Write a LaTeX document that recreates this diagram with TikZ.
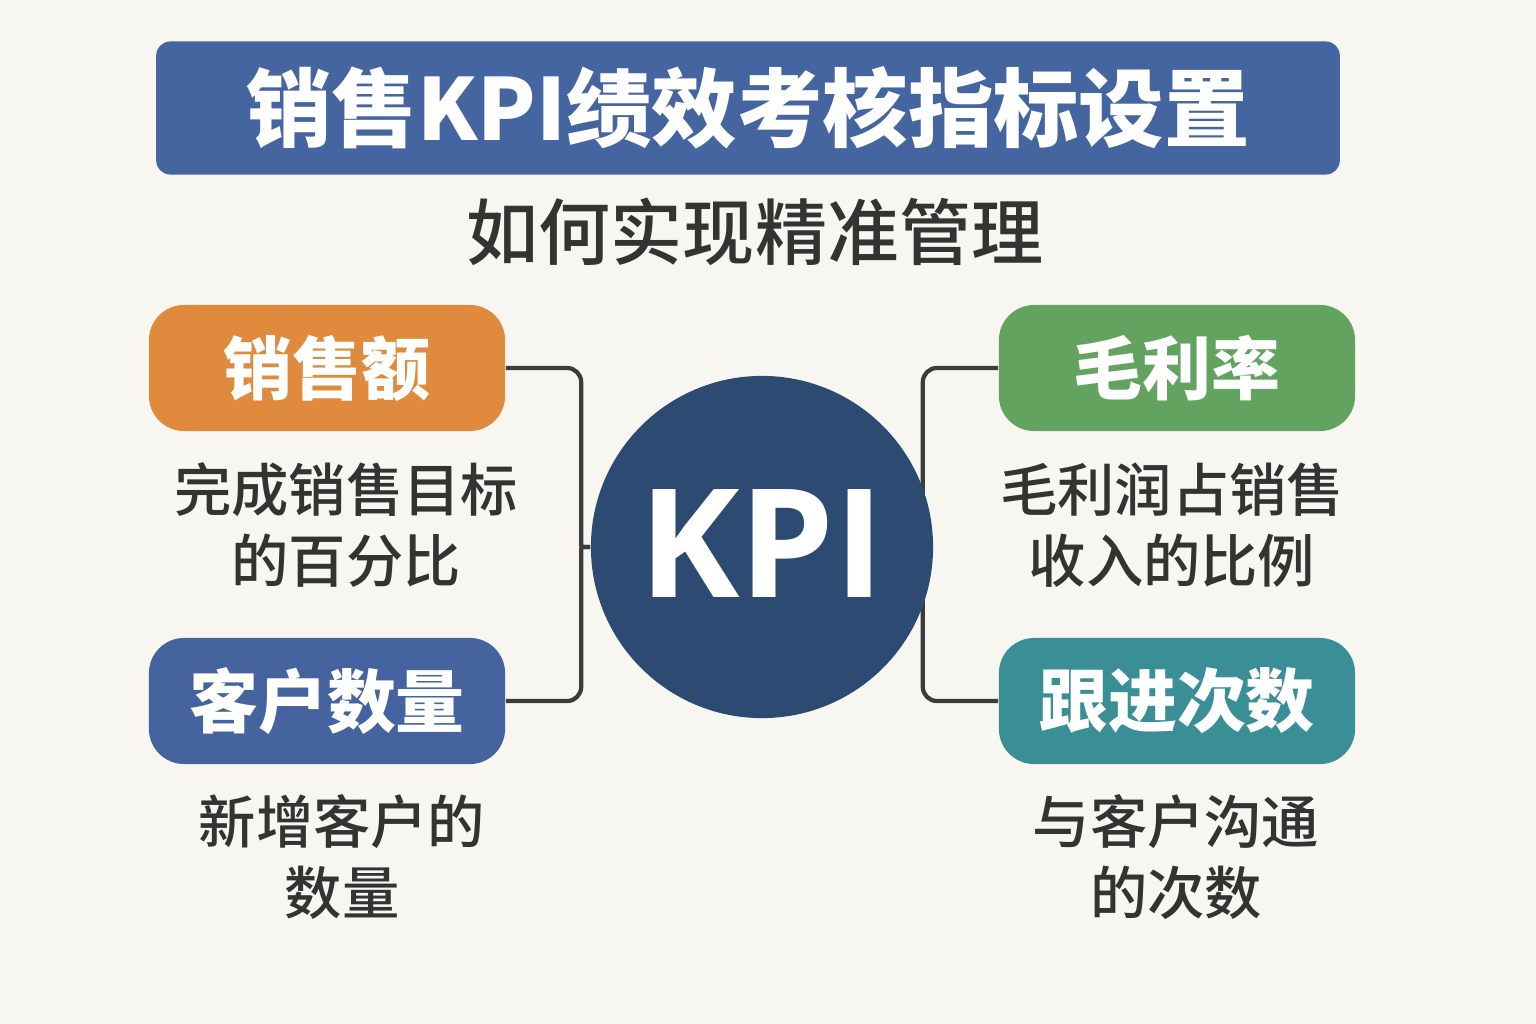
\documentclass[tikz,border=0pt]{standalone}
\usepackage{fontspec}
\setmainfont{Noto Sans CJK SC}
\newfontfamily\cjkmed{Noto Sans CJK SC}[UprightFont={* Medium}]
\newfontfamily\kpifont{Open Sans}
\usetikzlibrary{positioning,backgrounds,calc}
\definecolor{bgpaper}{HTML}{F8F6F1}
\definecolor{titleblue}{HTML}{4565A1}
\definecolor{kpiblue}{HTML}{2D4A72}
\definecolor{salesorange}{HTML}{DF8A3D}
\definecolor{clientblue}{HTML}{44639F}
\definecolor{margingreen}{HTML}{62A35F}
\definecolor{followteal}{HTML}{3A8E96}
\definecolor{inkgray}{HTML}{333333}
\definecolor{linkgray}{HTML}{3C3C3C}

\begin{document}
\begin{tikzpicture}[x=0.01cm, y=-0.01cm,
    tag/.style={rounded corners=10pt, minimum width=3.56cm, minimum height=1.26cm,
      inner sep=0pt, text=white, font=\fontsize{19.6}{24}\selectfont\bfseries},
    desc/.style={align=center, text=inkgray, inner sep=0pt,
      font=\cjkmed\fontsize{16.3}{20}\selectfont},
    link/.style={draw=linkgray, line width=1.2pt, rounded corners=4pt}]
% header
\node[fill=titleblue, rounded corners=4pt, minimum width=11.83cm, minimum height=1.33cm,
  text=white, font=\fontsize{24.3}{30}\selectfont\bfseries] (title) at (748,108) {销售KPI绩效考核指标设置};
\node[text=inkgray, font=\cjkmed\fontsize{20.5}{24}\selectfont] (subtitle) at (755,232) {如何实现精准管理};
% centre
\node[circle, fill=kpiblue, minimum size=3.42cm, inner sep=0pt, text=white,
  font=\kpifont\fontsize{43}{50}\selectfont\bfseries] (kpi) at (762,547) {\raisebox{0.06cm}{KPI}};
% four indicators
\node[tag, fill=salesorange] (sales) at (327,368) {销售额};
\node[tag, fill=clientblue] (clients) at (327,701) {客户数量};
\node[tag, fill=margingreen] (margin) at (1177,368) {毛利率};
\node[tag, fill=followteal] (follow) at (1177,701) {跟进次数};
\node[desc] (salesdesc) at (346,525) {完成销售目标\\的百分比};
\node[desc] (clientsdesc) at (342,857) {新增客户的\\数量};
\node[desc] (margindesc) at (1172,525) {毛利润占销售\\收入的比例};
\node[desc] (followdesc) at (1176,857) {与客户沟通\\的次数};
\coordinate (joinL) at ($(kpi.west)+(-9,0)$);
\coordinate (joinR) at ($(kpi.east)+(-11,0)$);
\begin{pgfonlayer}{background}
\fill[bgpaper] (0,0) rectangle (1536,1024);
\draw[link] (sales.east) -- (sales.east -| joinL) -- ($(joinL)+(0,-17)$) .. controls (joinL) .. (kpi.west);
\draw[link] (clients.east) -- (clients.east -| joinL) -- ($(joinL)+(0,17)$) .. controls (joinL) .. (kpi.west);
\draw[link] (margin.west) -- (margin.west -| joinR) -- (follow.west -| joinR) -- (follow.west);
\end{pgfonlayer}
\useasboundingbox (0,0) rectangle (1536,1024);
\end{tikzpicture}
\end{document}
